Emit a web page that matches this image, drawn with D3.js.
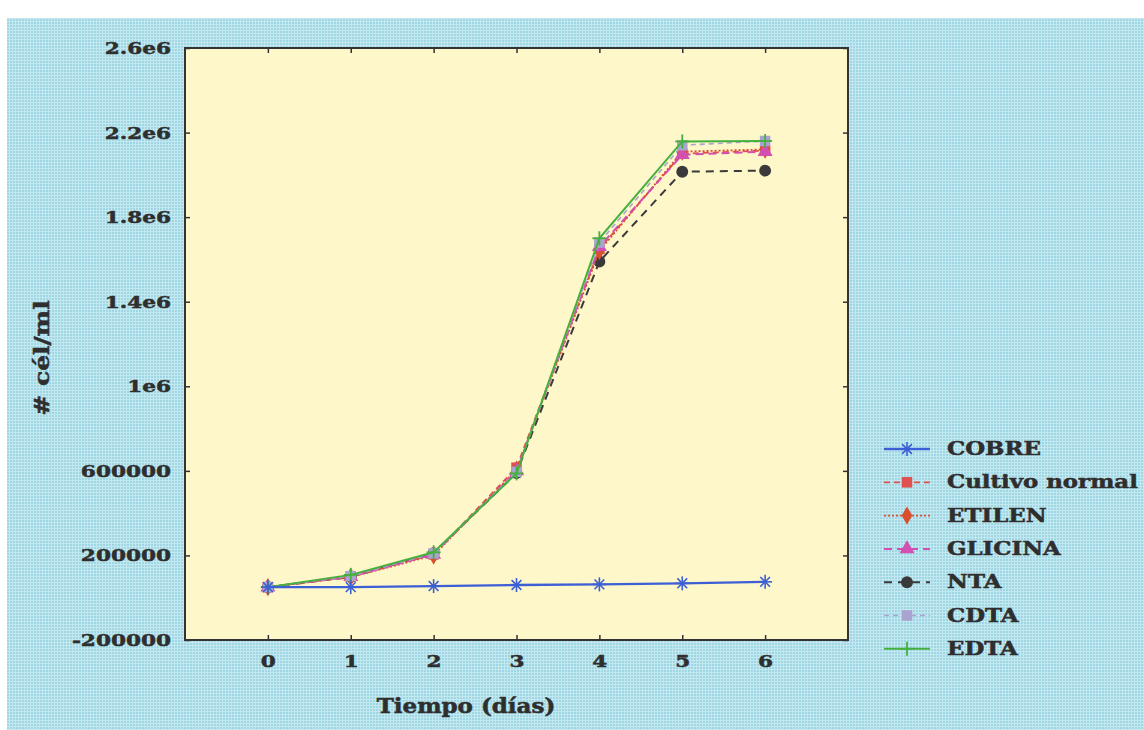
<!DOCTYPE html>
<html>
<head>
<meta charset="utf-8">
<script src="https://cdn.jsdelivr.net/npm/d3@7"></script>
<style>
  html, body { margin: 0; padding: 0; background: #ffffff; }
  svg { display: block; }
</style>
</head>
<body>
<svg id="chart" width="1144" height="730"></svg>
<script>
// Cell growth over time for each culture condition
const days = [0, 1, 2, 3, 4, 5, 6];
const seriesNames = ["COBRE", "Cultivo normal", "ETILEN", "GLICINA", "NTA", "CDTA", "EDTA"];
const cobre   = [50000, 50000, 55000, 60000, 63000, 68000, 75000];
const cultivo = [50000, 100000, 205000, 615000, 1650000, 2100000, 2115000];
const etilen  = [50000, 98000, 200000, 605000, 1640000, 2110000, 2120000];
const glicina = [50000, 100000, 205000, 600000, 1660000, 2095000, 2110000];
const nta     = [50000, 98000, 210000, 590000, 1590000, 2015000, 2020000];
const cdta    = [50000, 102000, 210000, 595000, 1680000, 2140000, 2160000];
const edta    = [50000, 108000, 215000, 588000, 1700000, 2158000, 2160000];
const yTicks = [-200000, 200000, 600000, 1000000, 1400000, 1800000, 2200000, 2600000];
const yTickLabels = ["-200000", "200000", "600000", "1e6", "1.4e6", "1.8e6", "2.2e6", "2.6e6"];
const xTicks = [0, 1, 2, 3, 4, 5, 6];

const values = [cobre, cultivo, etilen, glicina, nta, cdta, edta];
const styles = [
  { color: "#3d5fd6", dash: null,  width: 2.4, marker: "asterisk" },
  { color: "#e0504e", dash: "6,4", width: 1.8, marker: "square" },
  { color: "#d8502e", dash: "2,2", width: 1.8, marker: "diamond" },
  { color: "#d34fb2", dash: "8,5", width: 2.0, marker: "triangle" },
  { color: "#3a3a3a", dash: "8,6", width: 2.0, marker: "circle" },
  { color: "#a9a4cf", dash: "5,4", width: 1.6, marker: "square" },
  { color: "#46b03e", dash: null,  width: 2.0, marker: "plus" }
];

const svg = d3.select("#chart");
const W = 1144, H = 730;
const plot = { left: 185, right: 848, top: 48, bottom: 640 };
const textColor = "#2e2e2e";

// halftone-like background
const defs = svg.append("defs");
const pat = defs.append("pattern").attr("id", "dots")
  .attr("width", 3).attr("height", 3).attr("patternUnits", "userSpaceOnUse");
pat.append("rect").attr("width", 3).attr("height", 3).attr("fill", "#9fd6e4");
pat.append("rect").attr("width", 1).attr("height", 3).attr("fill", "#c4e8f0");
pat.append("rect").attr("width", 3).attr("height", 1).attr("fill", "#c4e8f0");

svg.append("rect").attr("x", 0).attr("y", 0).attr("width", W).attr("height", H).attr("fill", "#ffffff");
svg.append("rect").attr("x", 7).attr("y", 18).attr("width", W - 7).attr("height", H - 18).attr("fill", "url(#dots)");

const x = d3.scaleLinear().domain([-1, 7]).range([plot.left, plot.right]);
const y = d3.scaleLinear().domain([-200000, 2600000]).range([plot.bottom, plot.top]);

// plot area
svg.append("rect")
  .attr("x", plot.left).attr("y", plot.top)
  .attr("width", plot.right - plot.left).attr("height", plot.bottom - plot.top)
  .attr("fill", "#fdf7c9");

const fontFam = "'DejaVu Serif', 'Liberation Serif', serif";

// widen and thicken bold serif text
function stretch(sel, factor) {
  sel.attr("stroke", textColor).attr("stroke-width", 0.5);
  sel.each(function () {
    const w = this.getComputedTextLength();
    if (w > 0) d3.select(this).attr("textLength", w * factor).attr("lengthAdjust", "spacingAndGlyphs");
  });
}

// axes with inward ticks on all four sides
const axisBottom = d3.axisBottom(x).tickValues(xTicks).tickSizeInner(-5).tickSizeOuter(0).tickPadding(15);
const axisTop = d3.axisTop(x).tickValues(xTicks).tickSizeInner(-5).tickSizeOuter(0).tickFormat("");
const axisLeft = d3.axisLeft(y).tickValues(yTicks).tickSizeInner(-5).tickSizeOuter(0).tickPadding(14)
  .tickFormat((d, i) => yTickLabels[i]);
const axisRight = d3.axisRight(y).tickValues(yTicks).tickSizeInner(-5).tickSizeOuter(0).tickFormat("");

function styleAxis(g) {
  g.select(".domain").remove();
  g.selectAll(".tick line").attr("stroke", "#333").attr("stroke-width", 1.5);
  g.selectAll(".tick text").attr("fill", textColor).attr("font-family", fontFam)
    .attr("font-weight", "bold").attr("font-size", 17).call(stretch, 1.27);
}
svg.append("g").attr("transform", `translate(0,${plot.bottom})`).call(axisBottom).call(styleAxis);
svg.append("g").attr("transform", `translate(0,${plot.top})`).call(axisTop).call(styleAxis);
svg.append("g").attr("transform", `translate(${plot.left},0)`).call(axisLeft).call(styleAxis);
svg.append("g").attr("transform", `translate(${plot.right},0)`).call(axisRight).call(styleAxis);

// frame
svg.append("rect")
  .attr("x", plot.left).attr("y", plot.top)
  .attr("width", plot.right - plot.left).attr("height", plot.bottom - plot.top)
  .attr("fill", "none").attr("stroke", "#333").attr("stroke-width", 2);

// axis titles
svg.append("text").attr("x", 466).attr("y", 713).attr("text-anchor", "middle")
  .attr("font-family", fontFam).attr("font-weight", "bold").attr("font-size", 20).attr("fill", textColor)
  .text("Tiempo (días)").call(stretch, 1.15);
svg.append("text").attr("transform", "translate(49,358) rotate(-90)").attr("text-anchor", "middle")
  .attr("font-family", fontFam).attr("font-weight", "bold").attr("font-size", 20).attr("fill", textColor)
  .text("# cél/ml").call(stretch, 1.25);

// marker drawing
function drawMarker(g, type, color, cx, cy, s) {
  const m = g.append("g").attr("transform", `translate(${cx},${cy})`);
  if (type === "asterisk") {
    [[-s, 0, s, 0], [0, -s, 0, s], [-s * 0.7, -s * 0.7, s * 0.7, s * 0.7], [-s * 0.7, s * 0.7, s * 0.7, -s * 0.7]]
      .forEach(l => m.append("line").attr("x1", l[0]).attr("y1", l[1]).attr("x2", l[2]).attr("y2", l[3])
        .attr("stroke", color).attr("stroke-width", 1.6));
  } else if (type === "square") {
    m.append("rect").attr("x", -s * 0.75).attr("y", -s * 0.75).attr("width", s * 1.5).attr("height", s * 1.5).attr("fill", color);
  } else if (type === "diamond") {
    m.append("path").attr("d", d3.symbol(d3.symbolDiamond, s * s * 2)()).attr("fill", color);
  } else if (type === "triangle") {
    m.append("path").attr("d", d3.symbol(d3.symbolTriangle, s * s * 2)()).attr("fill", color);
  } else if (type === "circle") {
    m.append("circle").attr("r", s * 0.85).attr("fill", color);
  } else if (type === "plus") {
    m.append("line").attr("x1", -s).attr("x2", s).attr("y1", 0).attr("y2", 0).attr("stroke", color).attr("stroke-width", 1.8);
    m.append("line").attr("x1", 0).attr("x2", 0).attr("y1", -s).attr("y2", s).attr("stroke", color).attr("stroke-width", 1.8);
  }
}

const line = d3.line().x((d, i) => x(days[i])).y(d => y(d));
const dataG = svg.append("g");
// draw back to front so COBRE and EDTA stay visible
const order = [4, 1, 2, 3, 5, 6, 0];
order.forEach(k => {
  const st = styles[k];
  dataG.append("path").datum(values[k]).attr("d", line)
    .attr("fill", "none").attr("stroke", st.color).attr("stroke-width", st.width)
    .attr("stroke-dasharray", st.dash);
  values[k].forEach((v, i) => drawMarker(dataG, st.marker, st.color, x(days[i]), y(v), 7));
});

// legend
const leg = svg.append("g");
seriesNames.forEach((name, k) => {
  const st = styles[k];
  const ly = 449 + k * 33.3;
  leg.append("line").attr("x1", 884).attr("x2", 930).attr("y1", ly).attr("y2", ly)
    .attr("stroke", st.color).attr("stroke-width", st.width).attr("stroke-dasharray", st.dash);
  drawMarker(leg, st.marker, st.color, 907, ly, 7);
  leg.append("text").attr("x", 947).attr("y", ly + 6)
    .attr("font-family", fontFam).attr("font-weight", "bold").attr("font-size", 18).attr("fill", textColor)
    .text(name).call(stretch, 1.27);
});
</script>
</body>
</html>
